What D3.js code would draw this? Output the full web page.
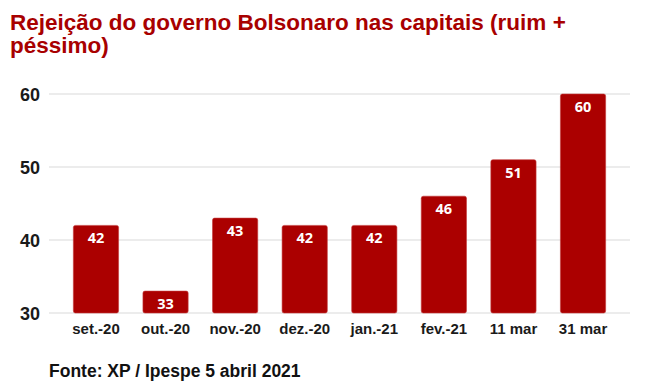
<!DOCTYPE html>
<html>
<head>
<meta charset="utf-8">
<script src="https://cdn.jsdelivr.net/npm/d3@7/dist/d3.min.js"></script>
<style>
  body { margin: 0; background: #fff; }
  svg { display: block; }
  text { font-family: "Liberation Sans", Arial, sans-serif; }
</style>
</head>
<body>
<svg id="chart" width="646" height="391"></svg>
<script>
// ── DATA ──────────────────────────────────────────────────────────────────
const categories = ['set.-20', 'out.-20', 'nov.-20', 'dez.-20', 'jan.-21', 'fev.-21', '11 mar', '31 mar'];
const values     = [42, 33, 43, 42, 42, 46, 51, 60];
const yTicks     = [30, 40, 50, 60];

const titleLines = ['Rejeição do governo Bolsonaro nas capitais (ruim +', 'péssimo)'];
const sourceText = 'Fonte: XP / Ipespe 5 abril 2021';

// ── LAYOUT ────────────────────────────────────────────────────────────────
const BAR_COLOR = '#ab0000';
const svg = d3.select('#chart');

const x = d3.scaleBand()
  .domain(categories)
  .range([49, 630])
  .paddingInner(0.35)
  .paddingOuter(0.35);

const y = d3.scaleLinear().domain([30, 60]).range([313, 94]);

// title
svg.append('text')
  .attr('x', 10).attr('y', 30)
  .attr('fill', '#a80000')
  .style('font-size', '22.5px').style('font-weight', 'bold')
  .selectAll('tspan').data(titleLines).join('tspan')
    .attr('x', 10)
    .attr('dy', (d, i) => i === 0 ? 0 : 23)
    .text(d => d);

// gridlines
svg.append('g')
  .selectAll('line').data(yTicks).join('line')
    .attr('x1', 49).attr('x2', 630)
    .attr('y1', d => y(d)).attr('y2', d => y(d))
    .attr('stroke', '#d9d9d9').attr('stroke-width', 1);

// y axis labels
const yAxis = d3.axisLeft(y).tickValues(yTicks).tickSize(0).tickPadding(0);
svg.append('g')
  .attr('transform', 'translate(40,0)')
  .call(yAxis)
  .call(g => g.select('.domain').remove())
  .call(g => g.selectAll('text')
    .attr('fill', '#1a1a1a')
    .attr('dy', '0.35em')
    .style('font-size', '18px').style('font-weight', 'bold')
    .style('font-family', '"Liberation Sans", Arial, sans-serif'));

// bars
svg.append('g')
  .selectAll('rect').data(values).join('rect')
    .attr('x', (d, i) => x(categories[i]))
    .attr('y', d => y(d))
    .attr('width', x.bandwidth())
    .attr('height', d => y(30) - y(d))
    .attr('rx', 2)
    .attr('fill', BAR_COLOR)
    .attr('stroke', '#c23a3a').attr('stroke-width', 0.6);

// bar value labels
svg.append('g')
  .selectAll('text').data(values).join('text')
    .attr('x', (d, i) => x(categories[i]) + x.bandwidth() / 2)
    .attr('y', d => y(d) + 18)
    .attr('text-anchor', 'middle')
    .attr('fill', '#fff')
    .style('font-family', '"Open Sans", sans-serif')
    .style('font-size', '14.5px').style('font-weight', 'bold')
    .text(d => d);

// x axis labels
const xAxis = d3.axisBottom(x).tickSize(0).tickPadding(0);
svg.append('g')
  .attr('transform', `translate(0,${y(30)})`)
  .call(xAxis)
  .call(g => g.select('.domain').remove())
  .call(g => g.selectAll('text')
    .attr('y', 21).attr('dy', 0)
    .attr('fill', '#1a1a1a')
    .style('font-size', '15px').style('font-weight', 'bold')
    .style('font-family', '"Liberation Sans", Arial, sans-serif'));

// source
svg.append('text')
  .attr('x', 49).attr('y', 377)
  .attr('fill', '#111')
  .style('font-size', '17.5px').style('font-weight', 'bold')
  .text(sourceText);
</script>
</body>
</html>
